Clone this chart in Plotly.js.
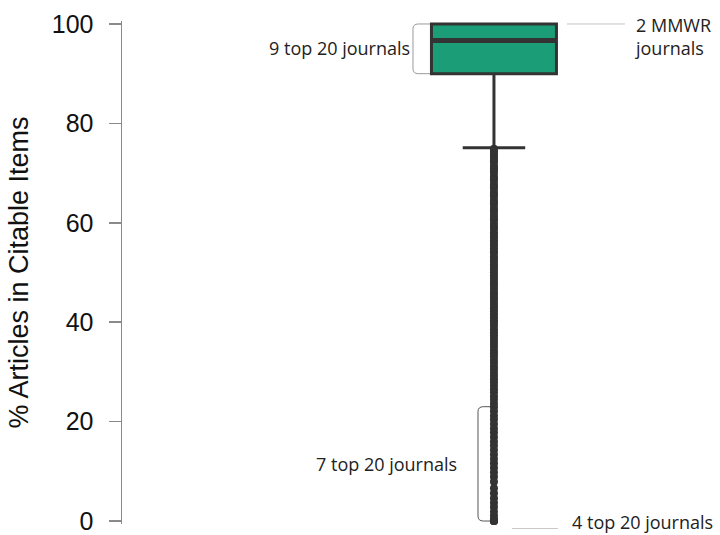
<!DOCTYPE html>
<html>
<head>
<meta charset="utf-8">
<script src="https://cdn.plot.ly/plotly-3.0.1.min.js"></script>
<style>
  html, body { margin: 0; padding: 0; background: #fff; }
  #chart { width: 720px; height: 535px; }
</style>
</head>
<body>
<div id="chart"></div>
<script>
// Box summary of % articles among citable items
const boxQ1 = [90];
const boxMedian = [96.7];
const boxQ3 = [100];
const boxLowerFence = [75.1];
const boxUpperFence = [100];

// Journals falling below the lower fence
const outlierValues = [
  74.9, 74.5, 74.1, 73.6, 73.1, 72.6, 72.2, 71.5, 71.0, 70.6, 70.1, 69.4,
  68.9, 68.5, 67.8, 67.3, 66.9, 66.2, 65.7, 65.3, 64.6, 64.1, 63.7, 63.0,
  62.5, 62.0, 61.4, 60.9, 60.5, 59.8, 59.2, 58.8, 58.1, 57.6, 57.1, 56.5,
  56.0, 55.5, 54.9, 54.3, 53.9, 53.2, 52.7, 52.2, 51.6, 51.1, 50.6, 50.0,
  49.4, 48.9, 48.3, 47.8, 47.3, 46.7, 46.1, 45.6, 45.0, 44.5, 43.9, 43.3,
  42.8, 42.2, 41.6, 41.0, 40.4, 39.9, 39.3, 38.6, 38.0, 37.4, 36.8, 36.2,
  35.6, 35.0, 34.3, 33.7, 33.1, 32.4, 31.8, 31.1, 30.5, 29.8, 29.2, 28.5,
  27.9, 27.2, 26.5, 25.9, 25.1, 24.4, 23.6, 22.9, 22.1, 21.2, 20.4, 19.5,
  18.6, 17.8, 16.9, 16.0, 15.2, 14.3, 13.4, 12.5, 11.6, 10.7, 9.8, 8.9,
  7.9, 6.6, 5.6, 4.6, 3.7, 2.8, 1.9, 1.1, 0.4, 0.0, 0.0, 0.0, 0.0
];

const yTickVals = [0, 20, 40, 60, 80, 100];
const yTickText = ['0', '20', '40', '60', '80', '100'];

// Bracketed groups of journals
const upperGroupRange = [90, 100];
const lowerGroupRange = [0, 23];
const mmwrValue = 100;

const annotationTexts = {
  upper: '9 top 20 journals',
  mmwr: '2 MMWR<br>journals',
  lower: '7 top 20 journals',
  zero: '4 top 20 journals'
};

// Horizontal placement (x axis spans 0..1 across the plot area)
const boxX = 0.622;
const boxWidth = 0.209;
const boxLeft = boxX - boxWidth / 2;
const boxRight = boxX + boxWidth / 2;

const dark = '#333333';
const fill = '#1b9e77';
const textFont = { family: '"Open Sans", "Noto Sans", sans-serif', size: 18, color: '#222' };
const axisFont = '"Liberation Sans", Arial, sans-serif';

const traces = [
  {
    type: 'box',
    x: [boxX],
    q1: boxQ1,
    median: boxMedian,
    q3: boxQ3,
    lowerfence: boxLowerFence,
    upperfence: boxUpperFence,
    width: boxWidth,
    whiskerwidth: 0.5,
    boxpoints: false,
    fillcolor: fill,
    line: { color: dark, width: 3 },
    hoverinfo: 'skip',
    showlegend: false
  },
  {
    type: 'scatter',
    mode: 'markers',
    x: outlierValues.map(() => boxX),
    y: outlierValues,
    marker: { size: 8, color: dark },
    cliponaxis: false,
    hoverinfo: 'y',
    showlegend: false
  }
];

function bracket(x0, x1, yLow, yHigh, rx, ry) {
  return 'M ' + x1 + ',' + yHigh +
    ' L ' + (x0 + rx) + ',' + yHigh +
    ' Q ' + x0 + ',' + yHigh + ' ' + x0 + ',' + (yHigh - ry) +
    ' L ' + x0 + ',' + (yLow + ry) +
    ' Q ' + x0 + ',' + yLow + ' ' + (x0 + rx) + ',' + yLow +
    ' L ' + x1 + ',' + yLow;
}

const shapes = [
  // heavy median bar
  {
    type: 'line', xref: 'x', yref: 'y', layer: 'above',
    x0: boxLeft, x1: boxRight, y0: boxMedian[0], y1: boxMedian[0],
    line: { color: dark, width: 5 }
  },
  // bracket beside the box
  {
    type: 'path', xref: 'x', yref: 'y', layer: 'below',
    path: bracket(0.4866, boxLeft, upperGroupRange[0], upperGroupRange[1], 0.009, 1.0),
    line: { color: '#9a9a9a', width: 1 }
  },
  // bracket beside the low outliers
  {
    type: 'path', xref: 'x', yref: 'y', layer: 'below',
    path: bracket(0.5953, 0.6187, lowerGroupRange[0], lowerGroupRange[1], 0.009, 1.0),
    line: { color: '#555', width: 1 }
  },
  // leader for the MMWR journals
  {
    type: 'line', xref: 'x', yref: 'y',
    x0: 0.744, x1: 0.841, y0: mmwrValue, y1: mmwrValue,
    line: { color: '#c4c4c4', width: 1 }
  },
  // leader for the journals at zero (sits just under the plot area)
  {
    type: 'line', xref: 'x', yref: 'paper',
    x0: 0.652, x1: 0.729, y0: -0.009, y1: -0.009,
    line: { color: '#c8c8c8', width: 1 }
  }
];

const annotations = [
  {
    xref: 'x', yref: 'y', x: 0.4849, y: 95.2, xanchor: 'right', yanchor: 'middle',
    text: annotationTexts.upper, showarrow: false, font: textFont
  },
  {
    xref: 'x', yref: 'y', x: 0.8545, y: 97.5, xanchor: 'left', yanchor: 'middle',
    align: 'left', text: annotationTexts.mmwr, showarrow: false, font: textFont
  },
  {
    xref: 'x', yref: 'y', x: 0.5635, y: 11.4, xanchor: 'right', yanchor: 'middle',
    text: annotationTexts.lower, showarrow: false, font: textFont
  },
  {
    xref: 'x', yref: 'y', x: 0.749, y: -0.2, xanchor: 'left', yanchor: 'middle',
    text: annotationTexts.zero, showarrow: false, font: textFont
  }
];

const layout = {
  width: 720,
  height: 535,
  margin: { l: 122, r: 0, t: 21, b: 9 },
  paper_bgcolor: '#ffffff',
  plot_bgcolor: '#ffffff',
  showlegend: false,
  xaxis: {
    range: [0, 1],
    visible: false,
    fixedrange: true
  },
  yaxis: {
    range: [-0.6, 100.6],
    tickvals: yTickVals,
    ticktext: yTickText,
    ticks: 'outside',
    ticklen: 12,
    tickwidth: 1.5,
    tickcolor: '#8a8a8a',
    showline: true,
    linecolor: '#8a8a8a',
    linewidth: 1.5,
    showgrid: false,
    zeroline: false,
    ticklabelstandoff: 10,
    ticklabeloverflow: 'allow',
    automargin: true,
    tickfont: { family: axisFont, size: 25, color: '#111' },
    title: {
      text: '% Articles in Citable Items',
      standoff: 15,
      font: { family: axisFont, size: 27, color: '#111' }
    },
    fixedrange: true
  },
  shapes: shapes,
  annotations: annotations
};

Plotly.newPlot('chart', traces, layout, { displayModeBar: false, staticPlot: true });
</script>
</body>
</html>
